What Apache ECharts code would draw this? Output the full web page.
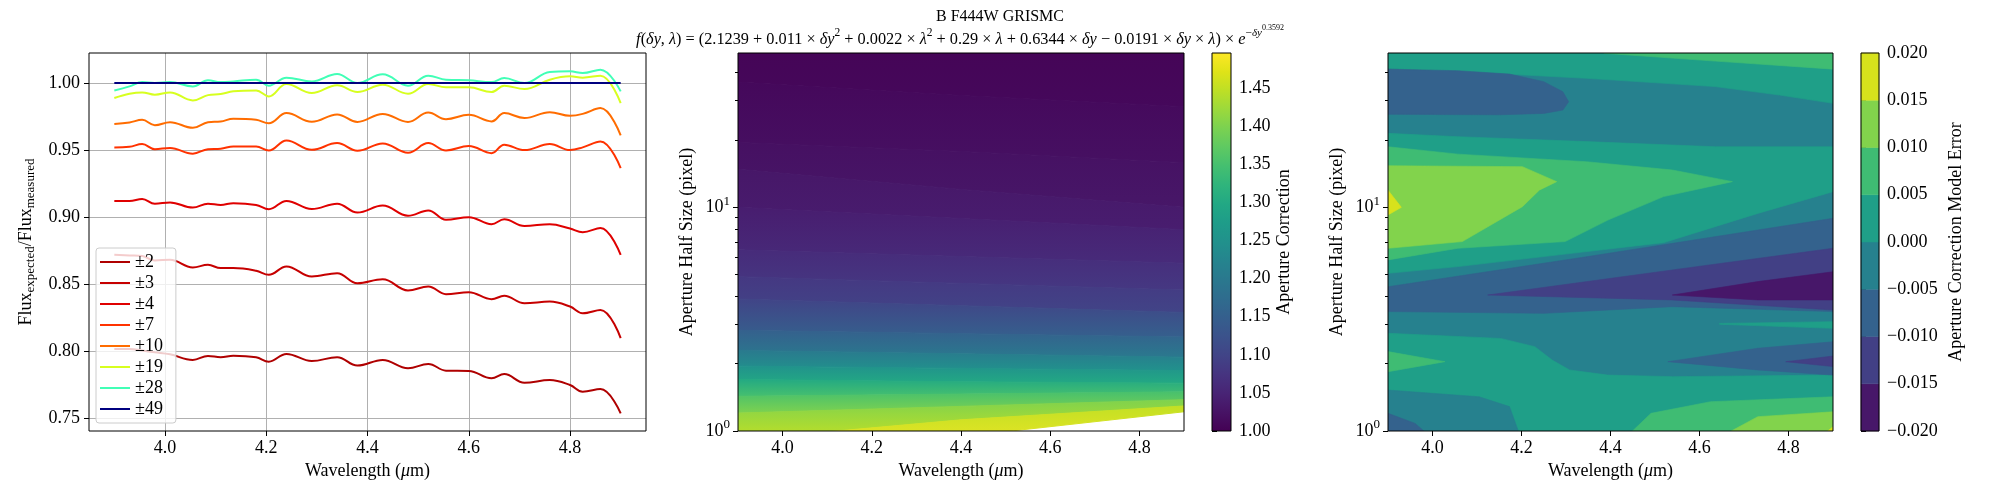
<!DOCTYPE html>
<html>
<head>
<meta charset="utf-8">
<title>F444W GRISMC aperture correction</title>
<script src="https://cdn.jsdelivr.net/npm/echarts@6.0.0/dist/echarts.min.js"></script>
<style>
  html, body { margin: 0; padding: 0; background: #fff; }
  #main { width: 2000px; height: 500px; }
</style>
</head>
<body>
<div id="main"></div>
<script>
const FONT = 'Liberation Serif';
const INK = '#000';

// ---- left panel: expected / measured flux per aperture half size ----
const wave = [3.90, 3.93, 3.955, 3.98, 4.01, 4.055, 4.085, 4.11, 4.135, 4.18, 4.205, 4.24, 4.29, 4.34,
              4.38, 4.43, 4.48, 4.52, 4.555, 4.60, 4.645, 4.67, 4.71, 4.76, 4.80, 4.825, 4.86, 4.90];
const apNames = ['±2', '±3', '±4', '±7', '±10', '±19', '±28', '±49'];
const apColors = ['#af0000', '#c60000', '#df0000', '#ff3200', '#ff6c00', '#d7ff1f', '#41ffb6', '#00007f'];
const flux2 = [0.8017, 0.8017, 0.8005, 0.7992, 0.7977, 0.7935, 0.7965, 0.7955, 0.7967, 0.7955, 0.7922, 0.7980, 0.7927, 0.7955,
               0.7893, 0.7935, 0.7873, 0.7905, 0.7855, 0.7853, 0.7798, 0.7830, 0.7765, 0.7785, 0.7748, 0.7698, 0.7718, 0.7537];
const flux3 = [0.8719, 0.8714, 0.8710, 0.8677, 0.8682, 0.8625, 0.8644, 0.8620, 0.8620, 0.8600, 0.8570, 0.8632, 0.8557, 0.8582,
               0.8507, 0.8537, 0.8453, 0.8483, 0.8425, 0.8440, 0.8388, 0.8413, 0.8358, 0.8370, 0.8333, 0.8283, 0.8308, 0.8097];
const flux4 = [0.9121, 0.9120, 0.9136, 0.9100, 0.9110, 0.9071, 0.9100, 0.9091, 0.9104, 0.9091, 0.9059, 0.9121, 0.9060, 0.9100,
               0.9034, 0.9086, 0.9010, 0.9050, 0.8980, 0.9000, 0.8947, 0.8984, 0.8934, 0.8947, 0.8915, 0.8888, 0.8919, 0.8718];
const flux7 = [0.9520, 0.9525, 0.9545, 0.9507, 0.9515, 0.9473, 0.9507, 0.9510, 0.9527, 0.9527, 0.9497, 0.9572, 0.9502, 0.9552,
               0.9495, 0.9550, 0.9480, 0.9552, 0.9497, 0.9530, 0.9477, 0.9540, 0.9500, 0.9545, 0.9500, 0.9520, 0.9564, 0.9365];
const flux10 = [0.9694, 0.9706, 0.9726, 0.9686, 0.9708, 0.9666, 0.9708, 0.9713, 0.9734, 0.9726, 0.9700, 0.9776, 0.9711, 0.9766,
                0.9710, 0.9770, 0.9710, 0.9780, 0.9730, 0.9763, 0.9714, 0.9776, 0.9739, 0.9783, 0.9756, 0.9770, 0.9813, 0.9610];
const flux19 = [0.9888, 0.9920, 0.9930, 0.9913, 0.9930, 0.9870, 0.9910, 0.9918, 0.9938, 0.9945, 0.9900, 0.9993, 0.9925, 0.9983,
                0.9933, 0.9988, 0.9920, 0.9993, 0.9968, 0.9968, 0.9933, 0.9980, 0.9955, 1.0025, 1.0050, 1.0040, 1.0055, 0.9850];
const flux28 = [0.9945, 0.9975, 1.0007, 1.0000, 1.0007, 0.9975, 1.0020, 1.0007, 1.0012, 1.0025, 0.9980, 1.0040, 1.0012, 1.0067,
                1.0000, 1.0065, 0.9980, 1.0055, 1.0025, 1.0020, 1.0007, 1.0037, 1.0000, 1.0082, 1.0087, 1.0075, 1.0100, 0.9938];
const flux49 = [1.0, 1.0, 1.0, 1.0, 1.0, 1.0, 1.0, 1.0, 1.0, 1.0, 1.0, 1.0, 1.0, 1.0,
                1.0, 1.0, 1.0, 1.0, 1.0, 1.0, 1.0, 1.0, 1.0, 1.0, 1.0, 1.0, 1.0, 1.0];
const fluxes = [flux2, flux3, flux4, flux7, flux10, flux19, flux28, flux49];
const waveTicks = [4.0, 4.2, 4.4, 4.6, 4.8];
const fluxTicks = [0.75, 0.80, 0.85, 0.90, 0.95, 1.00];

// ---- middle panel: aperture correction map ----
// level lines: log10(half size) where each correction level sits, read at three wavelengths
const corrCols = [3.9, 4.4, 4.9];
const corrLevels = [1.005, 1.01, 1.02, 1.03, 1.04, 1.06, 1.08, 1.10, 1.15, 1.20, 1.25, 1.30, 1.35, 1.40, 1.45, 1.496];
const corrLogDy = [
  [1.70, 1.70, 1.70],
  [1.56, 1.50, 1.45],
  [1.29, 1.25, 1.20],
  [1.17, 1.08, 1.00],
  [1.00, 0.95, 0.90],
  [0.81, 0.78, 0.75],
  [0.69, 0.66, 0.63],
  [0.59, 0.56, 0.53],
  [0.45, 0.435, 0.42],
  [0.36, 0.345, 0.33],
  [0.29, 0.28, 0.27],
  [0.23, 0.22, 0.214],
  [0.155, 0.165, 0.175],
  [0.08, 0.11, 0.14],
  [-0.04, 0.05, 0.112],
  [-0.15, -0.025, 0.086]
];
const corrRange = [1.0, 1.496];
const corrTicks = [1.00, 1.05, 1.10, 1.15, 1.20, 1.25, 1.30, 1.35, 1.40, 1.45];

// ---- right panel: model error, filled regions as [wavelength, log10(half size)] outlines ----
const errLevels = [-0.020, -0.015, -0.010, -0.005, 0.000, 0.005, 0.010, 0.015, 0.020];
const errShapes = [
  {band: 3, pts: [[3.9, -0.05], [4.9, -0.05], [4.9, 1.75], [3.9, 1.75]]},
  {band: 4, pts: [[3.9, 1.75], [4.9, 1.75], [4.9, 1.465], [4.78, 1.502], [4.635, 1.54], [4.346, 1.577], [4.057, 1.607], [3.9, 1.621]]},
  {band: 5, pts: [[4.365, 1.75], [4.9, 1.75], [4.9, 1.618], [4.635, 1.654], [4.385, 1.689]]},
  {band: 2, pts: [[3.9, 1.618], [4.057, 1.611], [4.173, 1.596], [4.25, 1.562], [4.293, 1.517], [4.306, 1.472], [4.293, 1.435], [4.25, 1.42], [4.153, 1.414], [3.9, 1.416]]},
  {band: 4, pts: [[3.9, 1.331], [4.057, 1.316], [4.346, 1.294], [4.635, 1.271], [4.9, 1.271], [4.9, 1.07], [4.731, 0.973], [4.519, 0.842], [4.298, 0.791], [4.057, 0.735], [3.9, 0.705]]},
  {band: 5, pts: [[3.9, 1.271], [4.057, 1.238], [4.346, 1.204], [4.539, 1.167], [4.674, 1.115], [4.519, 1.048], [4.394, 0.943], [4.298, 0.847], [4.057, 0.817], [3.9, 0.765]]},
  {band: 6, pts: [[3.9, 1.186], [4.202, 1.182], [4.279, 1.115], [4.24, 1.077], [4.202, 1.003], [4.067, 0.847], [3.9, 0.817]]},
  {band: 7, pts: [[3.9, 1.077], [3.93, 1.0], [3.9, 0.966]]},
  {band: 2, pts: [[3.9, 0.645], [4.346, 0.779], [4.9, 0.951], [4.9, 0.534], [4.539, 0.556], [4.25, 0.526], [3.9, 0.534]]},
  {band: 1, pts: [[4.124, 0.608], [4.539, 0.72], [4.9, 0.817], [4.9, 0.541], [4.539, 0.586]]},
  {band: 0, pts: [[4.539, 0.608], [4.731, 0.668], [4.9, 0.712], [4.9, 0.586], [4.731, 0.586]]},
  {band: 4, pts: [[4.645, 0.481], [4.9, 0.489], [4.9, 0.459], [4.645, 0.477]]},
  {band: 4, pts: [[3.9, 0.437], [4.153, 0.414], [4.23, 0.377], [4.269, 0.317], [4.308, 0.273], [4.394, 0.25], [4.539, 0.243], [4.9, 0.25], [4.9, -0.05], [3.9, -0.05]]},
  {band: 2, pts: [[4.529, 0.31], [4.731, 0.37], [4.9, 0.399], [4.9, 0.25], [4.731, 0.273]]},
  {band: 1, pts: [[4.794, 0.31], [4.9, 0.335], [4.9, 0.288]]},
  {band: 5, pts: [[3.9, 0.355], [4.028, 0.31], [3.9, 0.265]]},
  {band: 3, pts: [[3.9, 0.183], [4.105, 0.153], [4.173, 0.109], [4.202, -0.05], [3.9, -0.05]]},
  {band: 2, pts: [[3.9, 0.079], [3.961, 0.034], [4.009, -0.05], [3.9, -0.05]]},
  {band: 5, pts: [[4.423, -0.05], [4.491, 0.079], [4.625, 0.131], [4.9, 0.153], [4.9, -0.05]]},
  {band: 6, pts: [[4.625, -0.05], [4.731, 0.064], [4.9, 0.086], [4.9, -0.05]]},
  {band: 7, pts: [[4.857, -0.05], [4.9, 0.019], [4.9, -0.05]]}
];

// shared half-size axis (log10 units)
const dyTop = 49;
const majorExp = [0, 1];
const minorHalfSizes = [2, 3, 4, 5, 6, 7, 8, 9, 20, 30, 40];

const viridisStops = ['#440154', '#471365', '#482475', '#463480', '#414487', '#3b528b', '#355f8d', '#2f6c8e',
  '#2a788e', '#25848e', '#21918c', '#1e9c89', '#22a884', '#2fb47c', '#44bf70', '#5ec962', '#7ad151',
  '#9bd93c', '#bddf26', '#dfe318', '#fde725'];

function hexRgb(h) {
  return [parseInt(h.slice(1, 3), 16), parseInt(h.slice(3, 5), 16), parseInt(h.slice(5, 7), 16)];
}
function viridis(t) {
  t = Math.min(1, Math.max(0, t));
  const p = t * (viridisStops.length - 1);
  const i = Math.min(Math.floor(p), viridisStops.length - 2);
  const f = p - i;
  const a = hexRgb(viridisStops[i]), b = hexRgb(viridisStops[i + 1]);
  return 'rgb(' + a.map((c, k) => Math.round(c + (b[k] - c) * f)).join(',') + ')';
}
const corrColor = v => viridis((v - corrRange[0]) / (corrRange[1] - corrRange[0]));
const errColors = errLevels.slice(0, -1).map((v, k) => viridis((k + 0.5) / (errLevels.length - 1)));

const chart = echarts.init(document.getElementById('main'));

const tickStyle = {color: INK, width: 1};
const txt = (size, extra) => Object.assign({fontFamily: FONT, fontSize: size, fontWeight: 'normal', color: INK}, extra || {});
const labelFont = txt(18);
const supRich = {n: txt(18), s: txt(13, {padding: [0, 0, 12, 0]})};

function waveAxis(gridIndex, min, max, withGrid) {
  return {
    gridIndex: gridIndex, type: 'value', min: min, max: max,
    axisLine: {show: false},
    axisTick: {customValues: waveTicks, length: 5, lineStyle: tickStyle},
    axisLabel: Object.assign({customValues: waveTicks, margin: 8, formatter: v => v.toFixed(1)}, labelFont),
    splitLine: {show: withGrid, lineStyle: {color: '#b0b0b0', width: 1}},
    name: '{n|Wavelength (}{i|μ}{n|m)}', nameLocation: 'middle', nameGap: 30,
    nameTextStyle: {rich: {n: txt(18), i: txt(18, {fontStyle: 'italic'})}}
  };
}
function halfSizeAxes(gridIndex, width) {
  return [{
    gridIndex: gridIndex, type: 'value', min: 0, max: Math.log10(dyTop),
    axisLine: {show: false},
    axisTick: {customValues: majorExp, length: 5, lineStyle: tickStyle},
    axisLabel: {customValues: majorExp, margin: 8, formatter: v => '{n|10}{s|' + v + '}', rich: supRich},
    splitLine: {show: false},
    name: 'Aperture Half Size (pixel)', nameLocation: 'middle', nameRotate: 90, nameGap: 42,
    nameTextStyle: txt(18)
  }, {
    gridIndex: gridIndex, type: 'value', min: 0, max: Math.log10(dyTop),
    position: 'right', offset: -width,
    axisLine: {show: false}, axisLabel: {show: false}, splitLine: {show: false},
    axisTick: {customValues: minorHalfSizes.map(Math.log10), length: 3, inside: true, lineStyle: tickStyle}
  }];
}
function barAxis(gridIndex) {
  return {gridIndex: gridIndex, type: 'value', min: 0, max: 1, show: false};
}

const frame = {show: true, borderColor: INK, borderWidth: 1, backgroundColor: 'transparent', z: 10};

function renderCorrBand(params, api) {
  const k = params.dataIndex;
  const upper = corrCols.map((x, j) => api.coord([x, corrLogDy[k][j]]));
  const lower = corrCols.map((x, j) => api.coord([x, corrLogDy[k + 1][j]])).reverse();
  const grad = new echarts.graphic.LinearGradient(0, 0, 0, 1, [
    {offset: 0, color: corrColor(corrLevels[k])},
    {offset: 1, color: corrColor(corrLevels[k + 1])}
  ]);
  return {type: 'polygon', shape: {points: upper.concat(lower)}, style: {fill: grad, stroke: grad, lineWidth: 1}};
}
function renderErrShape(params, api) {
  const s = errShapes[params.dataIndex];
  const c = errColors[s.band];
  return {type: 'polygon', shape: {points: s.pts.map(p => api.coord(p))}, style: {fill: c, stroke: c, lineWidth: 0.6}};
}
function renderCorrBar(params, api) {
  const a = api.coord([0, corrRange[0]]), b = api.coord([1, corrRange[1]]);
  const n = viridisStops.length;
  const grad = new echarts.graphic.LinearGradient(0, 0, 0, 1,
    viridisStops.map((c, i) => ({offset: i / (n - 1), color: viridisStops[n - 1 - i]})));
  return {type: 'rect', shape: {x: a[0], y: b[1], width: b[0] - a[0], height: a[1] - b[1]}, style: {fill: grad}};
}
function renderErrBar(params, api) {
  const k = params.dataIndex;
  const a = api.coord([0, errLevels[k]]), b = api.coord([1, errLevels[k + 1]]);
  return {type: 'rect', shape: {x: a[0], y: b[1], width: b[0] - a[0], height: a[1] - b[1]},
          style: {fill: errColors[k], stroke: errColors[k], lineWidth: 0.5}};
}

const formula = '{i|f}{n|(}{i|δy}{n|, }{i|λ}{n|) = (2.1239 + 0.011 × }{i|δy}{s|2}{n| + 0.0022 × }{i|λ}{s|2}' +
  '{n| + 0.29 × }{i|λ}{n| + 0.6344 × }{i|δy}{n| − 0.0191 × }{i|δy}{n| × }{i|λ}{n|) × }{i|e}{s|−}{si|δy}{ss|0.3592}';

const option = {
  animation: false,
  backgroundColor: '#fff',
  title: [{
    text: 'B F444W GRISMC', left: 1000, top: 9, padding: 0, textAlign: 'center',
    textStyle: txt(16)
  }, {
    text: formula, left: 960, top: 24, padding: 0, textAlign: 'center',
    textStyle: Object.assign(txt(16.3), {rich: {
      n: txt(16.3), i: txt(16.3, {fontStyle: 'italic'}),
      s: txt(11.5, {padding: [0, 0, 14, 0]}), si: txt(11, {fontStyle: 'italic', padding: [0, 0, 14, 0]}),
      ss: txt(8, {padding: [0, 0, 24, 0]})
    }})
  }],
  legend: {
    data: apNames, left: 96, top: 248, orient: 'vertical', selectedMode: false,
    icon: 'rect', itemWidth: 30, itemHeight: 2, itemGap: 3, itemTextGap: 10,
    padding: [5, 13, 5, 4],
    backgroundColor: 'rgba(255,255,255,0.8)', borderColor: '#cccccc', borderWidth: 1, borderRadius: 3,
    textStyle: txt(18, {lineHeight: 18})
  },
  grid: [
    Object.assign({left: 89, top: 53, width: 557, height: 378}, frame),
    Object.assign({left: 738, top: 53, width: 446, height: 378}, frame),
    Object.assign({left: 1388, top: 53, width: 445, height: 378}, frame),
    Object.assign({left: 1212, top: 53, width: 19, height: 378}, frame),
    Object.assign({left: 1861, top: 53, width: 18, height: 378}, frame)
  ],
  xAxis: [
    waveAxis(0, 3.85, 4.95, true),
    waveAxis(1, 3.9, 4.9, false),
    waveAxis(2, 3.9, 4.9, false),
    barAxis(3),
    barAxis(4)
  ],
  yAxis: [
    {
      gridIndex: 0, type: 'value', min: 0.7405, max: 1.0224,
      axisLine: {show: false},
      axisTick: {customValues: fluxTicks, length: 5, lineStyle: tickStyle},
      axisLabel: Object.assign({customValues: fluxTicks, margin: 9, formatter: v => v.toFixed(2)}, labelFont),
      splitLine: {show: true, lineStyle: {color: '#b0b0b0', width: 1}},
      name: '{n|Flux}{b|expected}{n|/Flux}{b|measured}', nameLocation: 'middle', nameRotate: 90, nameGap: 52,
      nameTextStyle: {rich: {n: txt(18), b: txt(13, {padding: [8, 0, 0, 0]})}}
    },
    ...halfSizeAxes(1, 446),
    ...halfSizeAxes(2, 445),
    {
      gridIndex: 3, type: 'value', min: corrRange[0], max: corrRange[1], position: 'right',
      axisLine: {show: false},
      axisTick: {customValues: corrTicks, length: 5, lineStyle: tickStyle},
      axisLabel: Object.assign({customValues: corrTicks, margin: 8, formatter: v => v.toFixed(2)}, labelFont),
      splitLine: {show: false},
      name: 'Aperture Correction', nameLocation: 'middle', nameRotate: 90, nameGap: 44,
      nameTextStyle: txt(18)
    },
    {
      gridIndex: 4, type: 'value', min: errLevels[0], max: errLevels[errLevels.length - 1], position: 'right',
      axisLine: {show: false},
      axisTick: {customValues: errLevels, length: 5, lineStyle: tickStyle},
      axisLabel: Object.assign({customValues: errLevels, margin: 8,
        formatter: v => (v < -1e-9 ? '−' : '') + Math.abs(v).toFixed(3)}, labelFont),
      splitLine: {show: false},
      name: 'Aperture Correction Model Error', nameLocation: 'middle', nameRotate: 90, nameGap: 68,
      nameTextStyle: txt(18)
    }
  ],
  series: [
    ...fluxes.map((vals, s) => ({
      name: apNames[s], type: 'line', xAxisIndex: 0, yAxisIndex: 0,
      data: wave.map((x, i) => [x, vals[i]]),
      symbol: 'none', smooth: 0.4, color: apColors[s],
      lineStyle: {width: 2, color: apColors[s]}
    })),
    {
      type: 'custom', name: 'correction', xAxisIndex: 1, yAxisIndex: 1, clip: true,
      data: corrLevels.slice(0, -1).map((v, k) => [corrCols[0], corrLogDy[k][0]]),
      renderItem: renderCorrBand
    },
    {
      type: 'custom', name: 'model error', xAxisIndex: 2, yAxisIndex: 3, clip: true,
      data: errShapes.map(s => s.pts[0]),
      renderItem: renderErrShape
    },
    {
      type: 'custom', name: 'correction bar', xAxisIndex: 3, yAxisIndex: 5,
      data: [[0.5, corrRange[0]]],
      renderItem: renderCorrBar
    },
    {
      type: 'custom', name: 'error bar', xAxisIndex: 4, yAxisIndex: 6,
      data: errLevels.slice(0, -1).map(v => [0.5, v]),
      renderItem: renderErrBar
    }
  ]
};

chart.setOption(option);
</script>
</body>
</html>
